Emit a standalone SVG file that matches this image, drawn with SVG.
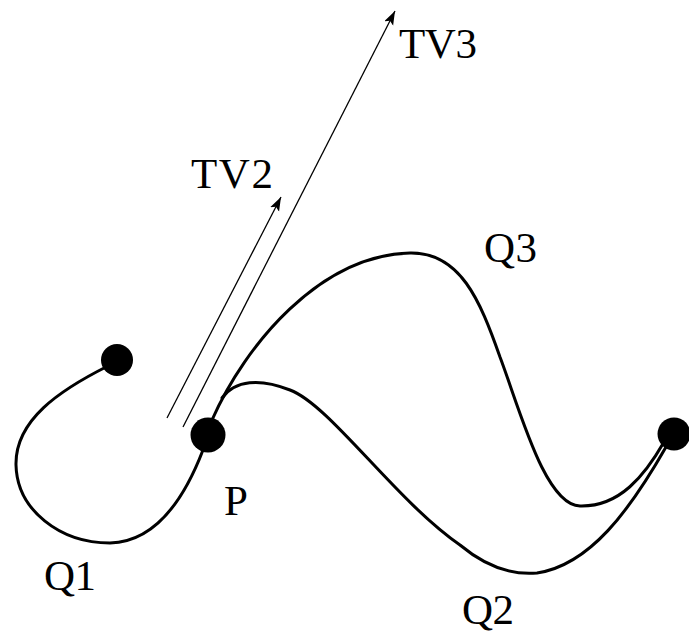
<svg xmlns="http://www.w3.org/2000/svg" width="689" height="635" viewBox="0 0 689 635">
<style>
.curve{fill:none;stroke:#000;stroke-width:3;stroke-linejoin:round;stroke-linecap:round}
.vec{fill:none;stroke:#000;stroke-width:1.3}
.dot{fill:#000}
.lbl{font-family:'Liberation Serif','Times New Roman',serif;font-size:43px;fill:#000}
</style>
<defs>
<marker id="ah" markerUnits="userSpaceOnUse" markerWidth="16" markerHeight="12" refX="14" refY="5" orient="auto">
<path d="M0,0 L14,5 L0,10 L3,5 Z" fill="#000"/>
</marker>
</defs>
<rect width="689" height="635" fill="#fff"/>
<g id="connectors">
<path id="Q1curve" class="curve" d="M108 366 C 60 390, 15 420, 16 465 C 17 510, 60 543, 110 543 C 150 542, 180 510, 203 450"/>
<path id="Q3curve" class="curve" d="M212 420 C 245 345, 320 255, 410 253 C 460 252, 480 300, 500 357 C 520 410, 545 505, 580 506 C 620 507, 645 475, 664 442"/>
<path id="Q2curve" class="curve" d="M222 398 C 235 380, 260 378, 290 390 C 330 405, 395 500, 460 545 C 490 570, 515 575, 537 573 C 590 565, 630 510, 666 447"/>
<line id="TV2" class="vec" x1="167" y1="418" x2="281" y2="197" marker-end="url(#ah)"/>
<line id="TV3" class="vec" x1="183" y1="427" x2="395" y2="11" marker-end="url(#ah)"/>
</g>
<g id="node-end1"><circle class="dot" cx="117" cy="360" r="16"/></g>
<g id="node-P"><circle class="dot" cx="208" cy="435" r="17.5"/><text class="lbl" x="224" y="515">P</text></g>
<g id="node-end2"><circle class="dot" cx="674" cy="434" r="16.5"/></g>
<g id="labels">
<text class="lbl" x="399" y="58" textLength="78" lengthAdjust="spacing">TV3</text>
<text class="lbl" x="191" y="188" textLength="82" lengthAdjust="spacing">TV2</text>
<text class="lbl" x="484" y="262" textLength="53" lengthAdjust="spacing">Q3</text>
<text class="lbl" x="44" y="590" textLength="52" lengthAdjust="spacing">Q1</text>
<text class="lbl" x="462" y="624" textLength="52" lengthAdjust="spacing">Q2</text>
</g>
</svg>
